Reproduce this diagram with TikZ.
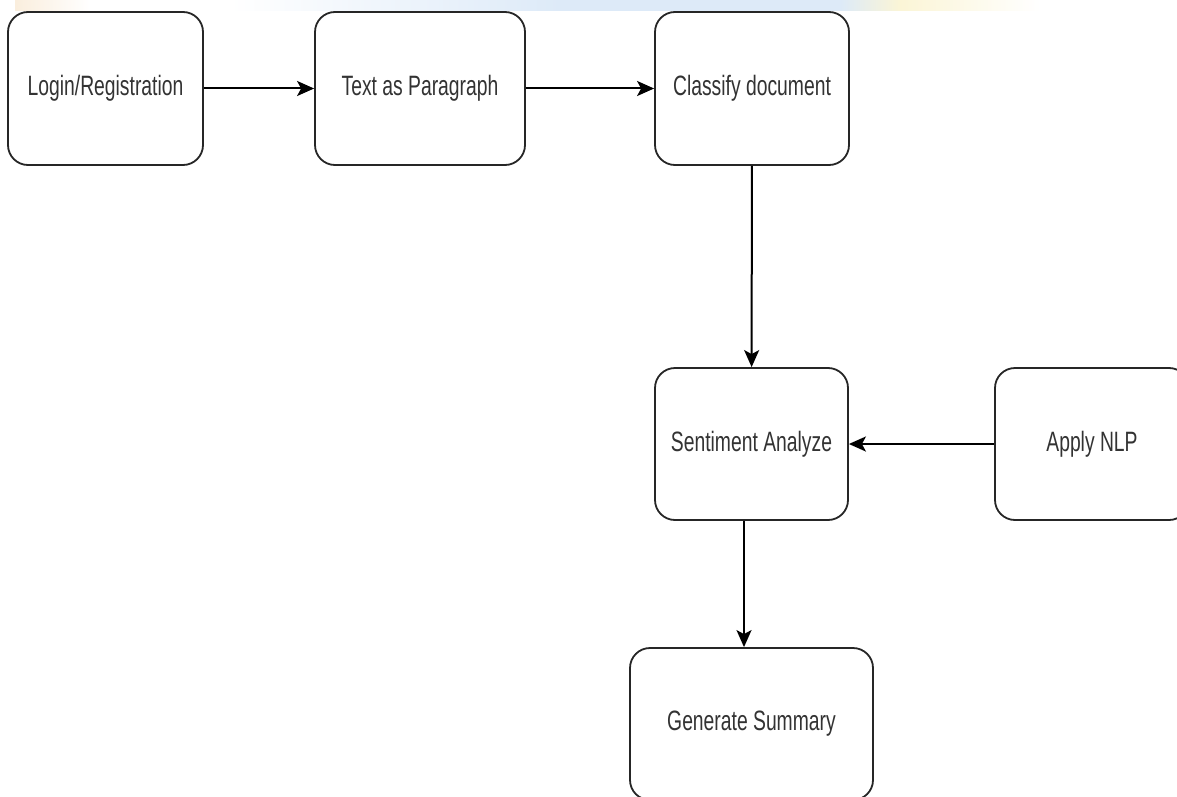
\documentclass[tikz,border=0pt]{standalone}
\usepackage{fontspec}
\setmainfont{Liberation Sans}
\newfontfamily\narrowfont[FakeStretch=0.69]{Liberation Sans}
\usetikzlibrary{arrows.meta}
\definecolor{wmblue}{HTML}{DDEAF8}
\definecolor{wmyellow}{HTML}{FBF5D6}
\definecolor{wmorange}{HTML}{FAEEDD}
\tikzset{
  box/.style={draw=black!85, line width=1.8pt, rounded corners=20pt, fill=white,
    minimum height=153pt, inner sep=0pt, text=black!80,
    font=\narrowfont\fontsize{28}{32}\selectfont},
  flow/.style={draw=black, line width=2pt, -{Stealth[length=17pt,width=15pt,inset=4pt]}}
}
\begin{document}
\begin{tikzpicture}[x=1pt,y=-1pt]
\useasboundingbox (0,0) rectangle (1177,797);
% faint watermark strip at the top
\shade[left color=wmorange, right color=white] (15,0) rectangle (90,11);
\shade[left color=white, right color=wmblue] (230,0) rectangle (560,11);
\fill[wmblue] (560,0) rectangle (840,11);
\shade[left color=wmblue, right color=wmyellow] (840,0) rectangle (900,11);
\shade[left color=wmyellow, right color=white] (900,0) rectangle (1040,11);
% nodes
\node[box, minimum width=195pt] (login) at (105.5,88.5) {Login/Registration};
\node[box, minimum width=210pt] (para) at (420,88.5) {Text as Paragraph};
\node[box, minimum width=194pt] (class) at (752,88.5) {Classify document};
\node[box, minimum width=193pt, minimum height=152pt] (sent) at (751.5,444) {Sentiment Analyze};
\node[box, minimum width=194pt, minimum height=152pt] (nlp) at (1092,444) {Apply NLP};
\node[box, minimum width=243pt, minimum height=152pt] (gen) at (751.5,724) {Generate Summary};
% connectors
\draw[flow] (login) -- (para);
\draw[flow] (para) -- (class);
\draw[flow] (class) -- (sent);
\draw[flow] (nlp) -- (sent);
\draw[flow] ([xshift=-7.5pt]sent.south) -- ([xshift=-7.5pt]gen.north);
\end{tikzpicture}
\end{document}
